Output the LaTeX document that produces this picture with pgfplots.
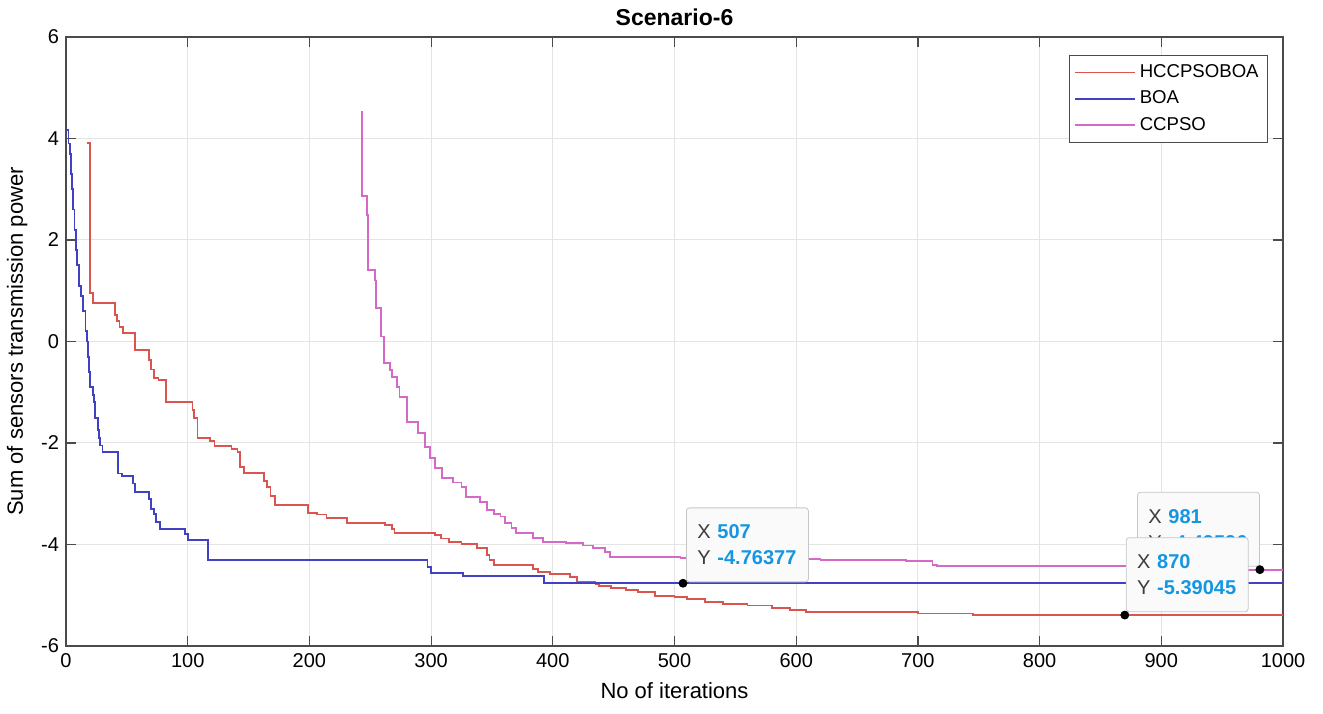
\documentclass[border=0pt]{standalone}
\usepackage{pgfplots}
\pgfplotsset{compat=1.18}
\usepackage{fontspec}
\setmainfont{Liberation Sans}
\definecolor{cred}{RGB}{218,85,80}
\definecolor{cblue}{RGB}{65,65,195}
\definecolor{cpink}{RGB}{212,105,200}
\definecolor{tipblue}{RGB}{20,150,225}
\definecolor{gridc}{RGB}{228,228,228}
\definecolor{axc}{RGB}{75,75,75}
\definecolor{tipgray}{RGB}{60,60,60}
\tikzset{tip/.style={draw=gray!45, fill=gray!4, rounded corners=1.5pt, align=left,
   font=\fontsize{10}{13}\selectfont, text width=50pt, inner xsep=5.5pt,
   minimum height=37pt, text=tipgray}}
\begin{document}
\begin{tikzpicture}
\begin{axis}[
 scale only axis, width=608.5pt, height=304.5pt,
 xmin=0, xmax=1000, ymin=-6, ymax=6,
 xtick={0,100,...,1000}, ytick={-6,-4,...,6},
 grid=major, major grid style={gridc, line width=0.5pt},
 axis line style={axc, line width=0.6pt},
 tick style={axc, line width=0.6pt},
 tick align=inside, major tick length=5pt,
 xtick pos=both, ytick pos=both,
 xticklabel pos=bottom, yticklabel pos=left,
 /pgf/number format/assume math mode=true,
 /pgf/number format/1000 sep={},
 tick label style={font=\fontsize{10}{12}\selectfont, text=black},
 title={Scenario-6},
 title style={font=\fontsize{11.5}{13}\selectfont\bfseries, yshift=-4pt},
 xlabel={No of iterations}, ylabel={Sum of sensors transmission power},
 label style={font=\fontsize{11}{13}\selectfont},
 xlabel style={yshift=-1pt},
 legend style={at={(0.9877,0.9704)}, anchor=north east, draw=axc,
   font=\fontsize{9.3}{10.5}\selectfont, inner sep=2.5pt, row sep=1.2pt,
   cells={anchor=west}},
 legend image code/.code={\draw[#1] (0pt,0pt) -- (30pt,0pt);},
]
\addplot[const plot, cred, line width=0.9pt] coordinates {
(17,3.91) (20,0.95) (22,0.76) (40,0.52) (42,0.40) (44,0.29) (47,0.16)
(57,-0.17) (68,-0.36) (70,-0.55) (72,-0.72) (76,-0.76) (82,-1.19)
(104,-1.35) (105,-1.51) (108,-1.90) (118,-1.96) (122,-2.06) (136,-2.12)
(141,-2.18) (143,-2.47) (146,-2.59) (163,-2.75) (165,-2.87) (168,-3.05)
(172,-3.22) (199,-3.38) (206,-3.41) (214,-3.48) (231,-3.58) (262,-3.62)
(268,-3.70) (270,-3.78) (303,-3.82) (308,-3.88) (315,-3.95) (325,-3.99)
(338,-4.07) (346,-4.20) (348,-4.31) (352,-4.40) (384,-4.48) (388,-4.54)
(398,-4.58) (414,-4.64) (420,-4.74) (435,-4.79) (438,-4.82) (448,-4.86)
(460,-4.90) (470,-4.93) (484,-5.01) (500,-5.04) (510,-5.08) (525,-5.13)
(540,-5.17) (560,-5.20) (580,-5.25) (595,-5.29) (608,-5.33) (700,-5.36)
(745,-5.39045) (1000,-5.39045)};
\addlegendentry{HCCPSOBOA}
\addplot[const plot, cblue, line width=0.9pt] coordinates {
(0,4.17) (2,3.9) (3,3.7) (4,3.3) (5,3.0) (6,2.6) (7,2.2) (8,1.8) (9,1.5)
(11,1.1) (12,0.9) (14,0.6) (16,0.2) (17,0) (18,-0.3) (19,-0.6) (20,-0.9)
(22,-1.05) (23,-1.2) (24,-1.5) (26,-1.75) (27,-1.9) (28,-2.05) (30,-2.18)
(43,-2.6) (46,-2.65) (55,-2.8) (57,-2.97) (68,-3.1) (70,-3.3) (72,-3.4)
(74,-3.55) (77,-3.70) (98,-3.80) (100,-3.91) (117,-4.31) (297,-4.45)
(300,-4.56) (326,-4.62) (393,-4.76377) (1000,-4.76377)};
\addlegendentry{BOA}
\addplot[const plot, cpink, line width=0.9pt] coordinates {
(242,4.52) (243,2.87) (247,2.5) (248,1.41) (254,1.2) (255,0.66) (259,0.1)
(261,-0.42) (266,-0.56) (268,-0.70) (272,-0.9) (274,-1.09) (280,-1.59)
(289,-1.8) (295,-2.08) (299,-2.30) (303,-2.49) (309,-2.69) (318,-2.78)
(325,-2.86) (329,-3.06) (340,-3.16) (346,-3.32) (352,-3.40) (357,-3.45)
(361,-3.58) (366,-3.68) (370,-3.78) (384,-3.87) (392,-3.95) (411,-3.97)
(425,-4.02) (433,-4.07) (443,-4.14) (447,-4.24) (505,-4.27) (560,-4.28)
(620,-4.30) (690,-4.32) (712,-4.40) (716,-4.43) (955,-4.46) (965,-4.49596)
(1000,-4.49596)};
\addlegendentry{CCPSO}
\node[tip, anchor=south west, xshift=1.5pt, yshift=0.5pt] at (axis cs:507,-4.76377)
  {X \textcolor{tipblue}{\bfseries 507}\\Y \mbox{\textcolor{tipblue}{\bfseries -4.76377}}};
\node[tip, anchor=south east, yshift=1.5pt] at (axis cs:981,-4.49596)
  {X \textcolor{tipblue}{\bfseries 981}\\Y \mbox{\textcolor{tipblue}{\bfseries -4.49596}}};
\node[tip, anchor=south west, xshift=0.5pt, yshift=1.5pt] at (axis cs:870,-5.39045)
  {X \textcolor{tipblue}{\bfseries 870}\\Y \mbox{\textcolor{tipblue}{\bfseries -5.39045}}};
\addplot[only marks, mark=*, mark size=2pt, black, forget plot] coordinates {
(507,-4.76377) (870,-5.39045) (981,-4.49596)};
\end{axis}
\pgfresetboundingbox
\path (current axis.south west) ++(-33pt,-33.5pt) coordinate (bbA)
      (current axis.north east) ++(20pt,18.5pt) coordinate (bbB);
\path[use as bounding box] (bbA) rectangle (bbB);
\end{tikzpicture}
\end{document}
